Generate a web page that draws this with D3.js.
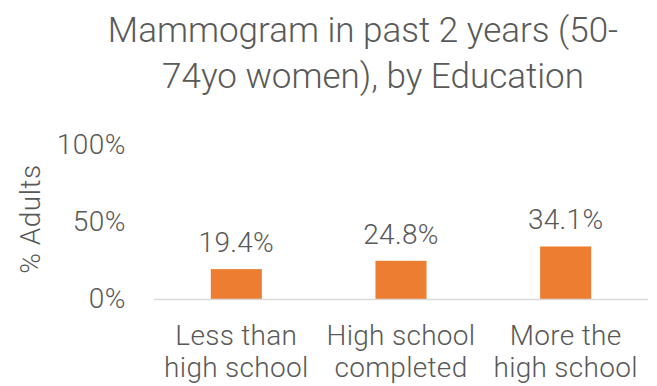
<!DOCTYPE html>
<html>
<head>
<meta charset="utf-8">
<script src="https://cdn.jsdelivr.net/npm/d3@7"></script>
<style>
  html, body { margin: 0; padding: 0; background: #fff; }
  svg { display: block; }
  text { font-family: Roboto, "Liberation Sans", Arial, sans-serif; font-weight: 300; fill: #595959; }
</style>
</head>
<body>
<svg id="chart" width="657" height="386"></svg>
<script>
// Mammogram screening rates by education level
const categories = [["Less than", "high school"], ["High school", "completed"], ["More the", "high school"]];
const values = [19.4, 24.8, 34.1];
const yTicks = [0, 50, 100];
const titleLines = ["Mammogram in past 2 years (50-", "74yo women), by Education"];
const yLabel = "% Adults";

const svg = d3.select("#chart");
const margin = { left: 154, right: 9, top: 145, baseline: 299 };
const fontFamily = "Roboto, Liberation Sans, Arial, sans-serif";
const labelSize = "28px";

const x = d3.scaleBand()
  .domain(d3.range(categories.length))
  .range([margin.left, 657 - margin.right])
  .paddingInner(0.69)
  .paddingOuter(0.345);

const y = d3.scaleLinear().domain([0, 100]).range([margin.baseline, margin.top]);

// Title
svg.append("g").selectAll("text").data(titleLines).join("text")
  .attr("x", (d, i) => i === 0 ? 363 : 373)
  .attr("y", (d, i) => 42 + i * 46)
  .attr("text-anchor", "middle")
  .style("font-size", "35px")
  .text(d => d);

// Y axis tick labels
const yAxis = d3.axisLeft(y).tickValues(yTicks).tickFormat(d => d + "%").tickSize(0).tickPadding(0);
const gy = svg.append("g").attr("transform", "translate(126,0)").call(yAxis);
gy.select(".domain").remove();
gy.selectAll("text")
  .style("font-size", labelSize)
  .style("font-family", fontFamily)
  .style("font-weight", 300)
  .style("letter-spacing", "0.5px")
  .attr("fill", "#595959");

// Y axis title
svg.append("text")
  .attr("transform", "translate(40,219) rotate(-90)")
  .attr("text-anchor", "middle")
  .style("font-size", labelSize)
  .style("letter-spacing", "0.5px")
  .text(yLabel);

// Bars
svg.append("g").selectAll("rect").data(values).join("rect")
  .attr("x", (d, i) => x(i))
  .attr("width", x.bandwidth())
  .attr("y", d => y(d))
  .attr("height", d => y(0) - y(d))
  .attr("fill", "#ED7D31");

// Baseline
svg.append("line")
  .attr("x1", margin.left).attr("x2", 657 - margin.right)
  .attr("y1", y(0) + 0.5).attr("y2", y(0) + 0.5)
  .attr("stroke", "#d9d9d9").attr("stroke-width", 1.5);

// Value labels
svg.append("g").selectAll("text").data(values).join("text")
  .attr("x", (d, i) => x(i) + x.bandwidth() / 2)
  .attr("y", d => y(d) - 17)
  .attr("text-anchor", "middle")
  .style("font-size", labelSize)
  .style("letter-spacing", "0.3px")
  .text(d => d.toFixed(1) + "%");

// Category labels
const cat = svg.append("g").selectAll("text").data(categories).join("text")
  .attr("text-anchor", "middle")
  .style("font-size", labelSize)
  .style("letter-spacing", "0.3px");
cat.selectAll("tspan").data((d, i) => d.map(s => ({ s, i }))).join("tspan")
  .attr("x", d => x(d.i) + x.bandwidth() / 2)
  .attr("y", (d, j) => 345 + j * 32)
  .text(d => d.s);
</script>
</body>
</html>
